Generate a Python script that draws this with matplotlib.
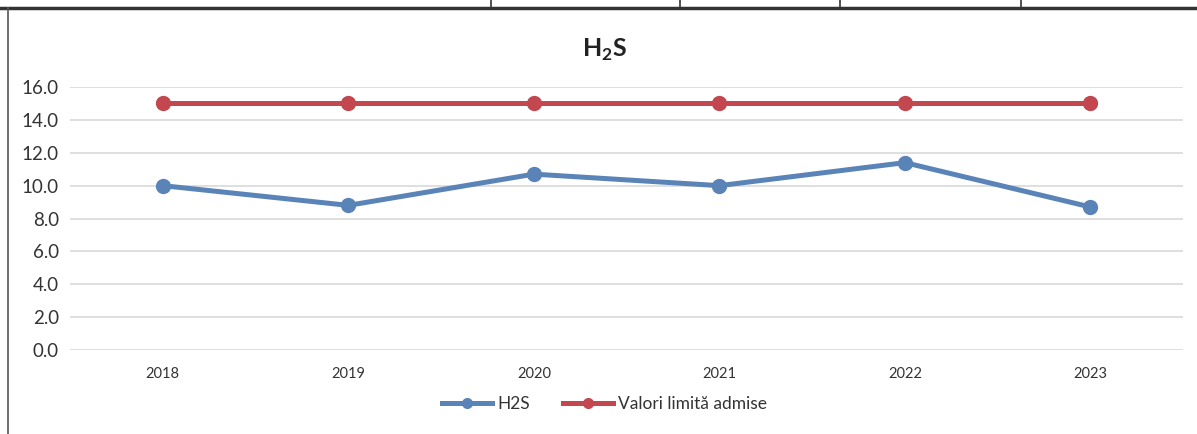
import matplotlib
matplotlib.use("Agg")
import matplotlib.pyplot as plt
from matplotlib.lines import Line2D

# date
ani = ["2018", "2019", "2020", "2021", "2022", "2023"]
h2s = [10.0, 8.8, 10.7, 10.0, 11.4, 8.7]
limita = [15.0, 15.0, 15.0, 15.0, 15.0, 15.0]
y_ticks = [0, 2, 4, 6, 8, 10, 12, 14, 16]

albastru = "#5a84b8"
rosu = "#c2474f"

plt.rcParams["font.family"] = ["Lato", "DejaVu Sans"]

fig = plt.figure(figsize=(11.97, 4.34), dpi=100)
ax = fig.add_axes([0.0585, 0.1935, 0.93, 0.606])

x = range(len(ani))
ax.plot(x, h2s, color=albastru, lw=3.6, marker="o", ms=10, label="H2S",
        solid_capstyle="round")
ax.plot(x, limita, color=rosu, lw=3.6, marker="o", ms=10,
        label="Valori limită admise", solid_capstyle="round")

ax.set_xlim(-0.5, len(ani) - 0.5)
ax.set_ylim(0, 16)
ax.set_yticks(y_ticks)
ax.set_yticklabels([f"{v:.1f}" for v in y_ticks], fontsize=13.5, color="#333333")
ax.set_xticks(list(x))
ax.set_xticklabels(ani, fontsize=10.5, color="#333333")
ax.tick_params(length=0)
ax.tick_params(axis="x", pad=12)
ax.tick_params(axis="y", pad=8)
ax.grid(axis="y", color="#d9d9d9", lw=1.2)
ax.set_axisbelow(True)
for s in ax.spines.values():
    s.set_visible(False)

fig.text(0.505, 0.885, "H$_\\mathregular{2}$S", ha="center", va="center",
         fontsize=18, fontweight="bold", color="#222222")

handles = [
    Line2D([], [], color=albastru, lw=3.6, marker="o", ms=7),
    Line2D([], [], color=rosu, lw=3.6, marker="o", ms=7),
]
fig.legend(handles, ["H2S", "Valori limită admise"], loc="center",
           bbox_to_anchor=(0.505, 0.068), ncol=2, frameon=False,
           fontsize=12.5, handlelength=2.9, columnspacing=1.9,
           handletextpad=0.3, labelcolor="#333333")

# chenarul tabelului din documentul scanat
fig.add_artist(Line2D([0, 1], [0.982, 0.982], color="#333333", lw=2.5,
                      transform=fig.transFigure))
fig.add_artist(Line2D([0.007, 0.007], [0, 0.982], color="#555555", lw=1.2,
                      transform=fig.transFigure))
for xv in [0.41, 0.568, 0.702, 0.853]:
    fig.add_artist(Line2D([xv, xv], [0.982, 1], color="#333333", lw=1.2,
                          transform=fig.transFigure))

fig.savefig("out.png", dpi=100, facecolor="white")
